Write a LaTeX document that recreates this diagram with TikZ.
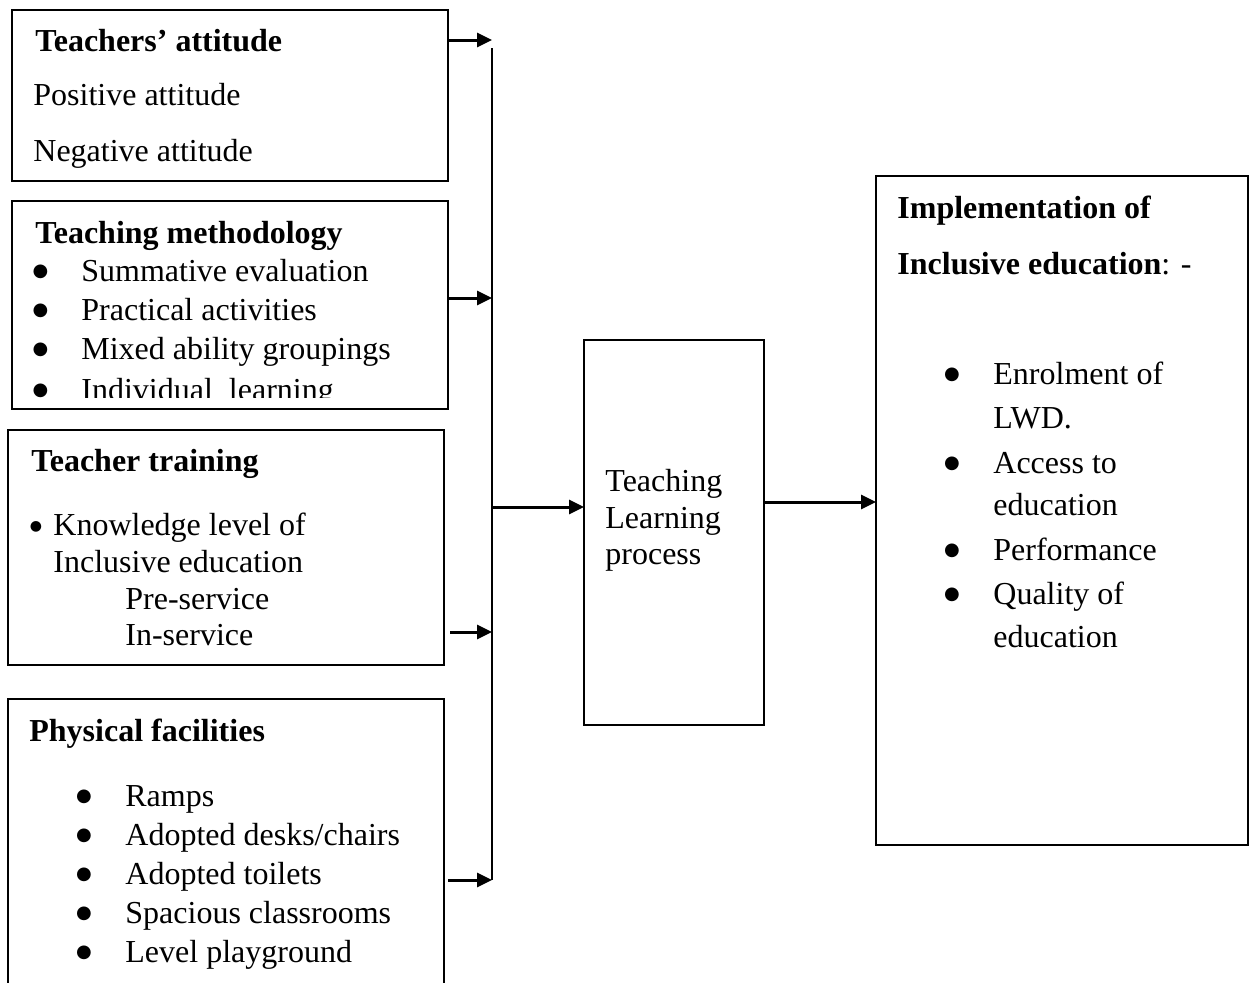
\documentclass[tikz,border=0pt]{standalone}
\usepackage{fontspec}
\setmainfont{Liberation Serif}
\newfontfamily\symfont{DejaVu Sans}
\usetikzlibrary{arrows.meta}

\begin{document}
\begin{tikzpicture}[
  x=0.5pt, y=-0.5pt,
  box/.style={draw, line width=1pt, inner sep=0pt, outer sep=0pt},
  txt/.style={anchor=base west, inner sep=0pt, font=\fontsize{16}{19}\selectfont},
  head/.style={txt, font=\fontsize{16}{19}\selectfont\bfseries},
  bul/.style={anchor=base, inner sep=0pt, font=\symfont\fontsize{9}{9}\selectfont},
  arr/.style={-{Triangle[length=7.5pt, width=7pt]}, line width=1.5pt},
]
  \useasboundingbox (0,0) rectangle (1251,982);

  % boxes
  \node[box, minimum width=218pt, minimum height=85.5pt] (attitude) at (230,95.5) {};
  \node[box, minimum width=218pt, minimum height=104pt] (method) at (230,305) {};
  \node[box, minimum width=218pt, minimum height=117.5pt] (training) at (226,547.5) {};
  \node[box, minimum width=218pt, minimum height=150.5pt] (facilities) at (226,849.5) {};
  \node[box, minimum width=90pt, minimum height=192.5pt] (tlp) at (674,532.5) {};
  \node[box, minimum width=186pt, minimum height=334.5pt] (impl) at (1062,510.5) {};

  % teachers' attitude
  \node[head] (att0) at (35,51) {Teachers’ attitude};
  \node[txt] (att1) at (33,105) {Positive attitude};
  \node[txt] (att2) at (33,161) {Negative attitude};

  % teaching methodology
  \node[head] (met0) at (35,243) {Teaching methodology};
  \foreach \y/\t [count=\i] in {281/{Summative evaluation}, 320/{Practical activities}, 359/{Mixed ability groupings}} {
    \node[bul] (metb\i) at (40.5,\y) {\raisebox{2.3pt}{●}};
    \node[txt] (met\i) at (81,\y) {\t};
  }
  \begin{scope}
    \clip (12,201) rectangle (448,397);
    \node[bul] (metb4) at (40.5,400) {\raisebox{2.3pt}{●}};
    \node[txt] (met4) at (81,400) {Individual\ \ learning};
  \end{scope}

  % teacher training
  \node[head] (tra0) at (31,471) {Teacher training};
  \node[bul, font=\symfont\fontsize{7}{7}\selectfont] (trab1) at (36,535) {\raisebox{2.4pt}{●}};
  \node[txt] (tra1) at (53,535) {Knowledge level of};
  \node[txt] (tra2) at (53,572) {Inclusive education};
  \node[txt] (tra3) at (125,609) {Pre-service};
  \node[txt] (tra4) at (125,645) {In-service};

  % physical facilities
  \node[head] (fac0) at (29,741) {Physical facilities};
  \foreach \y/\t [count=\i] in {806/{Ramps}, 845/{Adopted desks/chairs}, 884/{Adopted toilets}, 923/{Spacious classrooms}, 962/{Level playground}} {
    \node[bul] (facb\i) at (84,\y) {\raisebox{2.3pt}{●}};
    \node[txt] (fac\i) at (125,\y) {\t};
  }

  % teaching learning process
  \node[txt] (tlp1) at (605,491) {Teaching};
  \node[txt] (tlp2) at (605,528) {Learning};
  \node[txt] (tlp3) at (605,564) {process};

  % implementation
  \node[head] (imp0) at (897,218) {Implementation of};
  \node[txt] (imp1) at (897,274) {\textbf{Inclusive education}: -};
  \foreach \y/\t [count=\i] in {384/{Enrolment of}, 473/{Access to}, 560/{Performance}, 604/{Quality of}} {
    \node[bul] (impb\i) at (952,\y) {\raisebox{2.3pt}{●}};
    \node[txt] (imp\i b) at (993,\y) {\t};
  }
  \node[txt] (impx1) at (993,428) {LWD.};
  \node[txt] (impx2) at (993,515) {education};
  \node[txt] (impx3) at (993,647) {education};

  % connectors
  \coordinate (bustop) at (492,48);
  \coordinate (busbot) at (492,880);
  \draw[line width=1pt] (bustop) -- (busbot);
  \draw[arr] (attitude.east |- 0,40) -- (bustop |- 0,40);
  \draw[arr] (method.east |- 0,298) -- (bustop |- 0,298);
  \draw[arr, shorten <=3pt] (training.east |- 0,632) -- (bustop |- 0,632);
  \draw[arr, shorten <=2pt] (facilities.east |- 0,880) -- (busbot);
  \draw[arr] (bustop |- 0,507) -- (tlp.west |- 0,507);
  \draw[arr] (tlp.east |- 0,502) -- (impl.west |- 0,502);
\end{tikzpicture}
\end{document}
